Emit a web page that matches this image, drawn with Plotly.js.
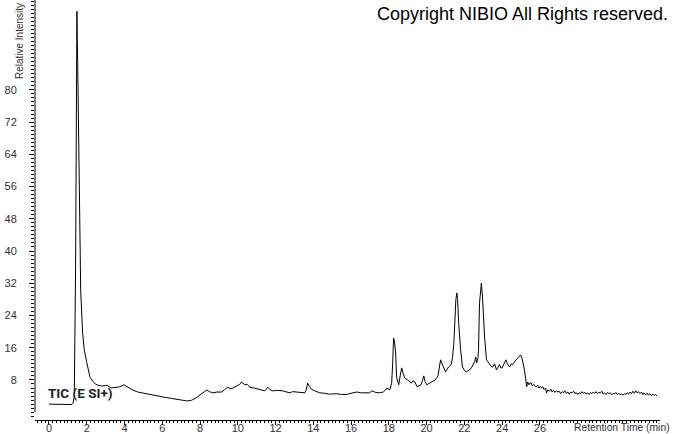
<!DOCTYPE html>
<html>
<head>
<meta charset="utf-8">
<script src="https://cdn.plot.ly/plotly-3.0.1.min.js"></script>
<style>
html,body{margin:0;padding:0;background:#fff;}
#chart{width:674px;height:434px;}
</style>
</head>
<body>
<div id="chart"></div>
<script>
// Retention time (min)
const retentionTime = [
0.0,0.4,0.8,1.1,1.22,1.27,1.34,1.41,1.46,1.48,1.50,1.52,1.54,1.60,1.68,1.78,1.87,1.99,2.17,2.33,2.45,2.6,2.79,3.0,3.12,3.28,3.5,3.75,3.97,4.1,4.25,4.44,4.7,5.0,5.34,5.6,5.9,6.24,6.5,6.8,7.05,7.3,7.5,7.57,7.8,7.99,8.2,8.36,8.5,8.68,8.9,9.15,9.3,9.47,9.6,9.74,9.95,10.1,10.2,10.3,10.37,10.5,10.63,10.85,11.06,11.25,11.43,11.59,11.7,11.85,12.1,12.38,12.55,12.75,12.9,13.1,13.3,13.55,13.62,13.7,13.8,13.9,14.07,14.34,14.6,14.8,15.0,15.2,15.5,15.77,16.0,16.3,16.55,16.8,16.98,17.1,17.3,17.5,17.7,17.83,17.9,18.04,18.15,18.2,18.25,18.3,18.36,18.41,18.52,18.6,18.68,18.76,18.84,19.0,19.1,19.2,19.28,19.37,19.5,19.6,19.7,19.78,19.85,19.92,20.0,20.15,20.3,20.45,20.6,20.68,20.74,20.82,20.9,21.0,21.08,21.16,21.3,21.37,21.44,21.48,21.55,21.6,21.64,21.7,21.75,21.8,21.9,22.0,22.1,22.2,22.28,22.37,22.45,22.55,22.6,22.65,22.72,22.75,22.8,22.86,22.9,22.96,23.02,23.07,23.17,23.25,23.33,23.42,23.5,23.6,23.7,23.78,23.86,23.93,24.0,24.1,24.2,24.3,24.4,24.48,24.55,24.65,24.76,24.87,24.97,25.05,25.1,25.18,25.24,25.3,25.35,25.42,25.48,25.55,25.6,25.68,25.75,25.8,25.88,25.95,26.02,26.08,26.15,26.22,26.3,26.35,26.42,26.5,26.58,26.65,26.72,26.8,26.88,26.95,27.02,27.1,27.18,27.25,27.32,27.4,27.48,27.55,27.62,27.7,27.78,27.85,27.92,28.0,28.08,28.15,28.22,28.3,28.38,28.45,28.52,28.6,28.68,28.75,28.82,28.9,28.98,29.05,29.12,29.2,29.28,29.35,29.42,29.5,29.58,29.65,29.72,29.8,29.88,29.95,30.02,30.1,30.18,30.25,30.32,30.4,30.48,30.55,30.62,30.7,30.78,30.85,30.92,31.0,31.08,31.15,31.22,31.3,31.38,31.45,31.52,31.6,31.68,31.75,31.82,31.9,31.98,32.05,32.12,32.2
];
// Relative intensity (%)
const relIntensity = [
2.0,2.0,1.9,1.9,1.9,2.2,3.8,36,79,99.5,92,87,79,47.7,30.3,19.7,15.5,12.6,8.7,7.6,7.0,6.7,6.5,6.6,6.6,6.0,6.1,6.3,6.8,6.4,5.9,5.5,5.0,4.7,4.4,4.2,3.9,3.6,3.4,3.2,3.0,2.8,2.9,3.0,3.6,4.3,5.0,5.5,5.1,4.8,5.0,5.0,5.6,6.2,5.8,6.0,6.5,6.9,7.5,7.0,6.8,6.9,6.2,6.0,5.7,5.6,5.3,6.2,5.6,5.3,5.4,5.3,5.0,4.8,5.1,5.0,4.9,4.8,5.5,7.2,6.4,5.7,5.3,4.8,4.7,4.5,4.5,4.6,4.4,4.4,4.7,5.0,4.8,4.8,4.8,5.3,4.9,4.8,5.0,5.5,6.0,5.5,7.2,12,18.4,17.5,14.7,8.7,6.8,9,11,9.5,8.5,8.0,7.6,7.2,7.8,7.5,6.3,6.6,6.8,7.8,9.0,7.6,6.8,7.2,7.5,8.0,9.0,11.5,13,12,11.2,10,10.6,11.2,11.8,13.5,17,23,28,29.6,28,22,18,15.5,11.2,10.4,10.0,10.3,10.5,11.0,11.8,12.6,13.7,12.2,13.5,15.5,27,31,32,28.6,23,18.7,13,12.4,11.8,11.4,11.2,12.0,10.5,11.2,11.8,11.0,11.0,12.0,13.0,11.8,11.2,12.0,11.8,12.5,13.0,13.6,14.2,13.4,12.5,10.5,8.5,6.3,7.5,6.8,7.3,7.2,6.5,6.9,6.4,6.3,6.7,6.0,6.4,6.0,6.3,5.6,6.0,4.8,5.5,5.2,5.7,5.0,5.4,4.9,5.3,5.0,5.2,4.6,5.1,4.8,5.3,4.7,5.0,4.5,4.9,4.8,5.2,4.6,4.9,4.4,4.8,4.6,5.1,4.7,4.9,4.5,4.8,4.4,4.9,4.6,5.0,4.7,5.1,4.6,4.9,4.8,5.2,4.5,4.8,4.4,4.9,4.6,4.8,4.3,4.7,4.5,4.9,4.4,4.7,4.3,4.6,4.2,4.6,4.4,4.8,4.5,5.0,4.6,5.2,4.7,5.3,4.8,5.1,4.6,5.0,4.4,4.8,4.3,4.7,4.2,4.6,4.1,4.5,4.2,4.4,4.0
];
const xTickVals = [0,2,4,6,8,10,12,14,16,18,20,22,24,26];
const yTickVals = [8,16,24,32,40,48,56,64,72,80];

const Y_TOP = 102.3;
const trace = {
  x: retentionTime, y: relIntensity, type: 'scatter', mode: 'lines',
  line: {color: '#000', width: 1}, hoverinfo: 'skip'
};
const tickFont = {family: 'Liberation Sans, Arial, sans-serif', size: 11, color: '#333'};
const layout = {
  width: 674, height: 434,
  margin: {l: 35, r: 14, t: 0, b: 14, pad: 0},
  paper_bgcolor: '#fff', plot_bgcolor: '#fff',
  showlegend: false,
  xaxis: {
    range: [-0.74, 32.36], tickmode: 'array', tickvals: xTickVals,
    showgrid: false, zeroline: false, showline: true, linecolor: '#000', linewidth: 1,
    ticks: 'outside', ticklen: 4, tickcolor: '#000', tickwidth: 1,
    tickfont: tickFont, ticklabelstandoff: -6,
    minor: {tickmode: 'linear', tick0: 0, dtick: 0.2, ticks: 'outside', ticklen: 2, tickcolor: '#000', showgrid: false}
  },
  yaxis: {
    range: [-1.94, Y_TOP], tickmode: 'array', tickvals: yTickVals,
    showgrid: false, zeroline: false, showline: false,
    ticks: 'outside', ticklen: 5, tickcolor: '#000', tickwidth: 1,
    tickfont: tickFont, ticklabelstandoff: 10,
    minor: {tickmode: 'linear', tick0: 0, dtick: 1, ticks: 'outside', ticklen: 3, tickcolor: '#000', showgrid: false}
  },
  shapes: [
    {type: 'line', xref: 'paper', yref: 'y', x0: 0, x1: 0, y0: 0, y1: Y_TOP, line: {color: '#000', width: 1}}
  ],
  annotations: [
    {text: 'Copyright NIBIO All Rights reserved.', xref: 'paper', yref: 'paper',
     x: 1.016, y: 0.9667, xanchor: 'right', yanchor: 'middle', showarrow: false,
     font: {family: 'Liberation Sans, Arial, sans-serif', size: 18, color: '#000'}},
    {text: '<b>TIC (E SI+)</b>', xref: 'paper', yref: 'paper',
     x: 0.0176, y: 0.064, xanchor: 'left', yanchor: 'middle', showarrow: false,
     font: {family: 'Roboto, sans-serif', size: 13.5, color: '#222'}},
    {text: 'Retention Time (min)', xref: 'paper', yref: 'paper',
     x: 1.019, y: -0.0167, xanchor: 'right', yanchor: 'middle', showarrow: false,
     font: {family: 'Liberation Sans, Arial, sans-serif', size: 10.3, color: '#333'}},
    {text: 'Relative Intensity', xref: 'paper', yref: 'paper', textangle: -90,
     x: -0.0256, y: 0.807, xanchor: 'center', yanchor: 'bottom', showarrow: false,
     font: {family: 'Liberation Sans, Arial, sans-serif', size: 10, color: '#333'}}
  ]
};
Plotly.newPlot('chart', [trace], layout, {staticPlot: true, displayModeBar: false});
</script>
</body>
</html>
